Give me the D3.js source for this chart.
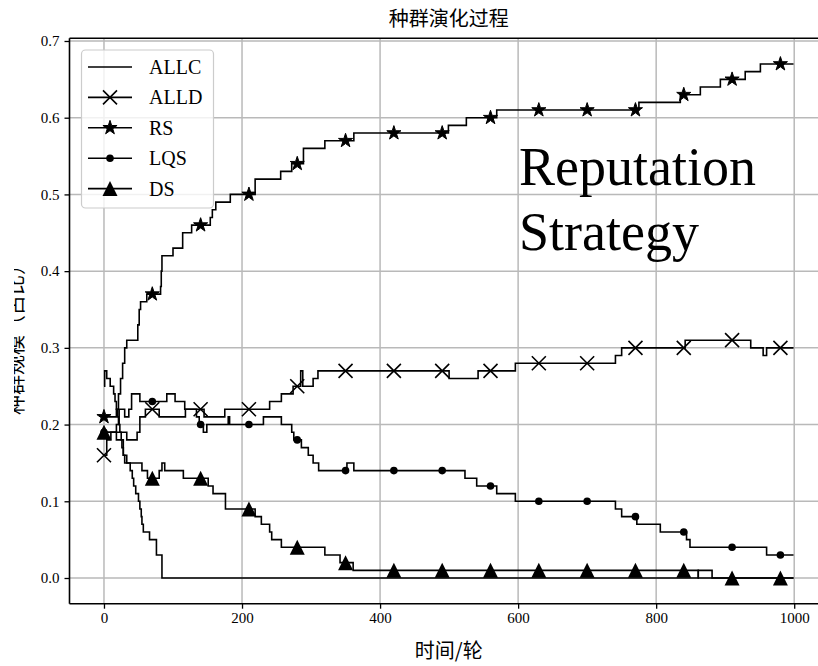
<!DOCTYPE html>
<html>
<head>
<meta charset="utf-8">
<script src="https://cdn.jsdelivr.net/npm/d3@7"></script>
<style>
  body { margin: 0; background: #fff; }
  svg { display: block; }
</style>
</head>
<body>
<svg id="chart" width="818" height="666"></svg>
<script>
// ---- data ---------------------------------------------------------------
const titleText = "种群演化过程";
const xLabelText = "时间/轮";
const yLabelText = "种群规模（占比）";
const noteLines = ["Reputation", "Strategy"];

const xTicks = [0, 200, 400, 600, 800, 1000];
const xTickLabels = ["0", "200", "400", "600", "800", "1000"];
const yTicks = [0.0, 0.1, 0.2, 0.3, 0.4, 0.5, 0.6, 0.7];
const yTickLabels = ["0.0", "0.1", "0.2", "0.3", "0.4", "0.5", "0.6", "0.7"];

const lastRound = 999;
const markerRounds = [0, 70, 140, 210, 280, 350, 420, 490, 560, 630, 700, 770, 840, 910, 980];

// each series: [round, share] at every change of the population share
const allc = [[0,0.25],[1,0.27],[4,0.26],[9,0.25],[14,0.24],[16,0.23],[18,0.22],[20,0.21],[21,0.20],
  [23,0.19],[25,0.18],[26,0.17],[28,0.16],[30,0.15],[38,0.14],[41,0.13],[43,0.12],[46,0.11],[50,0.10],
  [52,0.09],[54,0.08],[55,0.07],[57,0.06],[66,0.05],[76,0.03],[84,0.00],[861,0.01],[881,0.00]];

const alld = [[0,0.16],[4,0.18],[10,0.19],[33,0.18],[48,0.19],[52,0.21],[60,0.22],[80,0.21],[86,0.21],
  [118,0.22],[145,0.21],[175,0.22],[240,0.23],[257,0.24],[274,0.25],[285,0.27],[288,0.25],[303,0.26],
  [310,0.27],[500,0.26],[542,0.27],[596,0.28],[741,0.29],[750,0.30],[842,0.31],[937,0.30],[955,0.29],
  [960,0.30]];

const rs = [[0,0.21],[18,0.22],[21,0.24],[24,0.26],[27,0.28],[30,0.30],[33,0.31],[49,0.33],[51,0.35],
  [53,0.36],[62,0.37],[82,0.38],[83,0.40],[84,0.42],[100,0.43],[114,0.45],[127,0.46],[154,0.47],
  [157,0.48],[162,0.49],[183,0.50],[219,0.52],[256,0.53],[272,0.54],[289,0.56],[320,0.57],[362,0.58],
  [499,0.59],[525,0.60],[569,0.61],[775,0.62],[835,0.63],[864,0.64],[893,0.65],[929,0.66],[951,0.67]];

const lqs = [[0,0.19],[18,0.20],[22,0.22],[30,0.21],[36,0.22],[40,0.24],[52,0.23],[91,0.24],[103,0.23],
  [117,0.22],[134,0.21],[138,0.20],[144,0.19],[149,0.20],[180,0.21],[182,0.20],[231,0.21],[257,0.20],
  [272,0.19],[275,0.18],[286,0.17],[296,0.16],[303,0.15],[311,0.14],[352,0.15],[362,0.14],[523,0.13],
  [540,0.12],[569,0.11],[596,0.10],[741,0.09],[750,0.08],[772,0.07],[806,0.06],[844,0.05],[849,0.04],
  [960,0.03]];

const ds = [[0,0.19],[18,0.18],[28,0.16],[33,0.15],[55,0.14],[63,0.13],[80,0.14],[84,0.15],[88,0.14],
  [115,0.13],[151,0.12],[158,0.11],[176,0.09],[219,0.08],[228,0.07],[240,0.06],[243,0.05],[257,0.04],
  [320,0.03],[342,0.02],[361,0.01],[861,0.00]];

const seriesNames = ["ALLC", "ALLD", "RS", "LQS", "DS"];
const seriesData = [allc, alld, rs, lqs, ds];
const seriesMarkers = ["none", "x", "star", "dot", "triangle"];

// ---- layout ---------------------------------------------------------------
const svg = d3.select("#chart");
const W = 818, H = 666;
const plot = { left: 69.5, right: 828, top: 38.3, bottom: 603.7 };
const serif = "'Liberation Serif', 'Times New Roman', serif";
const cjk = "'Noto Sans CJK SC', sans-serif";

const x = d3.scaleLinear().domain([-49.95, 1048.95]).range([plot.left, plot.right]);
const y = d3.scaleLinear().domain([-0.0335, 0.7035]).range([plot.bottom, plot.top]);

svg.append("rect").attr("width", W).attr("height", H).attr("fill", "#fff");

svg.append("defs").append("clipPath").attr("id", "plotClip")
  .append("rect").attr("x", plot.left).attr("y", plot.top)
  .attr("width", plot.right - plot.left).attr("height", plot.bottom - plot.top);
svg.select("defs").append("clipPath").attr("id", "ylabClip")
  .append("rect").attr("x", 14).attr("y", 0).attr("width", 40).attr("height", H);

// grid
const grid = svg.append("g").attr("clip-path", "url(#plotClip)");
grid.selectAll(".gx").data(xTicks).join("line")
  .attr("x1", d => x(d)).attr("x2", d => x(d))
  .attr("y1", plot.top).attr("y2", plot.bottom)
  .attr("stroke", "#b9b9b9").attr("stroke-width", 1.5);
grid.selectAll(".gy").data(yTicks).join("line")
  .attr("x1", plot.left).attr("x2", plot.right)
  .attr("y1", d => y(d)).attr("y2", d => y(d))
  .attr("stroke", "#b9b9b9").attr("stroke-width", 1.5);

// series
const stepAt = (pts, t) => {
  const i = d3.bisector(d => d[0]).right(pts, t) - 1;
  return pts[Math.max(0, i)][1];
};
const line = d3.line().x(d => x(d[0])).y(d => y(d[1])).curve(d3.curveStepAfter);

const starPath = d3.symbol().type(d3.symbolStar).size(62)();
const markerDraw = {
  x: (g) => g.append("path").attr("d", "M-7,-7L7,7M-7,7L7,-7")
    .attr("stroke", "#000").attr("stroke-width", 1.6).attr("fill", "none"),
  star: (g) => g.append("path").attr("d", starPath).attr("fill", "#000")
    .attr("stroke", "#000").attr("stroke-width", 1),
  dot: (g) => g.append("circle").attr("r", 3.8).attr("fill", "#000"),
  triangle: (g) => g.append("path").attr("d", "M0,-7.5L7.5,7.5L-7.5,7.5Z").attr("fill", "#000"),
  none: () => {}
};

const plotG = svg.append("g").attr("clip-path", "url(#plotClip)");
seriesData.forEach((pts, k) => {
  const full = pts.concat([[lastRound, pts[pts.length - 1][1]]]);
  plotG.append("path").datum(full).attr("d", line)
    .attr("fill", "none").attr("stroke", "#000").attr("stroke-width", 1.6)
    .attr("stroke-linejoin", "miter");
  if (seriesMarkers[k] !== "none") {
    markerRounds.forEach(t => {
      const g = plotG.append("g").attr("transform", `translate(${x(t)},${y(stepAt(pts, t))})`);
      markerDraw[seriesMarkers[k]](g);
    });
  }
});

// spines
const spine = svg.append("g").attr("stroke", "#000").attr("stroke-width", 1.6);
spine.append("line").attr("x1", plot.left).attr("x2", plot.left).attr("y1", plot.top).attr("y2", plot.bottom);
spine.append("line").attr("x1", plot.left).attr("x2", plot.right).attr("y1", plot.bottom).attr("y2", plot.bottom);
spine.append("line").attr("x1", plot.left).attr("x2", plot.right).attr("y1", plot.top).attr("y2", plot.top);
spine.append("line").attr("x1", plot.right).attr("x2", plot.right).attr("y1", plot.top).attr("y2", plot.bottom);

// axes
const xAxis = d3.axisBottom(x).tickValues(xTicks).tickFormat((d, i) => xTickLabels[i])
  .tickSize(5).tickPadding(4);
const yAxis = d3.axisLeft(y).tickValues(yTicks).tickFormat((d, i) => yTickLabels[i])
  .tickSize(5).tickPadding(5);
const gx = svg.append("g").attr("transform", `translate(0,${plot.bottom})`).call(xAxis);
const gy = svg.append("g").attr("transform", `translate(${plot.left},0)`).call(yAxis);
[gx, gy].forEach(g => {
  g.select(".domain").remove();
  g.selectAll(".tick line").attr("stroke", "#000").attr("stroke-width", 1.3);
  g.selectAll(".tick text").attr("font-family", serif).attr("font-size", 15).attr("fill", "#000");
});

// titles
svg.append("text").attr("x", (plot.left + plot.right) / 2).attr("y", 26)
  .attr("text-anchor", "middle").attr("font-family", cjk).attr("font-size", 20)
  .attr("fill", "#000").text(titleText);
svg.append("text").attr("x", (plot.left + plot.right) / 2).attr("y", 658)
  .attr("text-anchor", "middle").attr("font-family", cjk).attr("font-size", 20)
  .attr("fill", "#000").text(xLabelText);
svg.append("g").attr("clip-path", "url(#ylabClip)")
  .append("text").attr("transform", "translate(23,335) rotate(-90)")
  .attr("text-anchor", "middle").attr("font-family", cjk).attr("font-size", 20)
  .attr("fill", "#000").text(yLabelText);

// annotation
const note = svg.append("text").attr("font-family", serif).attr("font-size", 54).attr("fill", "#000");
noteLines.forEach((s, i) => {
  note.append("tspan").attr("x", 519).attr("y", 185 + i * 65).text(s);
});

// legend
const leg = svg.append("g");
leg.append("rect").attr("x", 81.5).attr("y", 50).attr("width", 132).attr("height", 158)
  .attr("rx", 4).attr("fill", "#fff").attr("fill-opacity", 0.8)
  .attr("stroke", "#cccccc").attr("stroke-width", 1.2);
seriesNames.forEach((name, k) => {
  const cy = 67 + k * 30.4;
  leg.append("line").attr("x1", 88).attr("x2", 132).attr("y1", cy).attr("y2", cy)
    .attr("stroke", "#000").attr("stroke-width", 1.6);
  const g = leg.append("g").attr("transform", `translate(110,${cy})`);
  markerDraw[seriesMarkers[k]](g);
  leg.append("text").attr("x", 149).attr("y", cy).attr("dy", "0.35em")
    .attr("font-family", serif).attr("font-size", 20).attr("fill", "#000").text(name);
});
</script>
</body>
</html>
